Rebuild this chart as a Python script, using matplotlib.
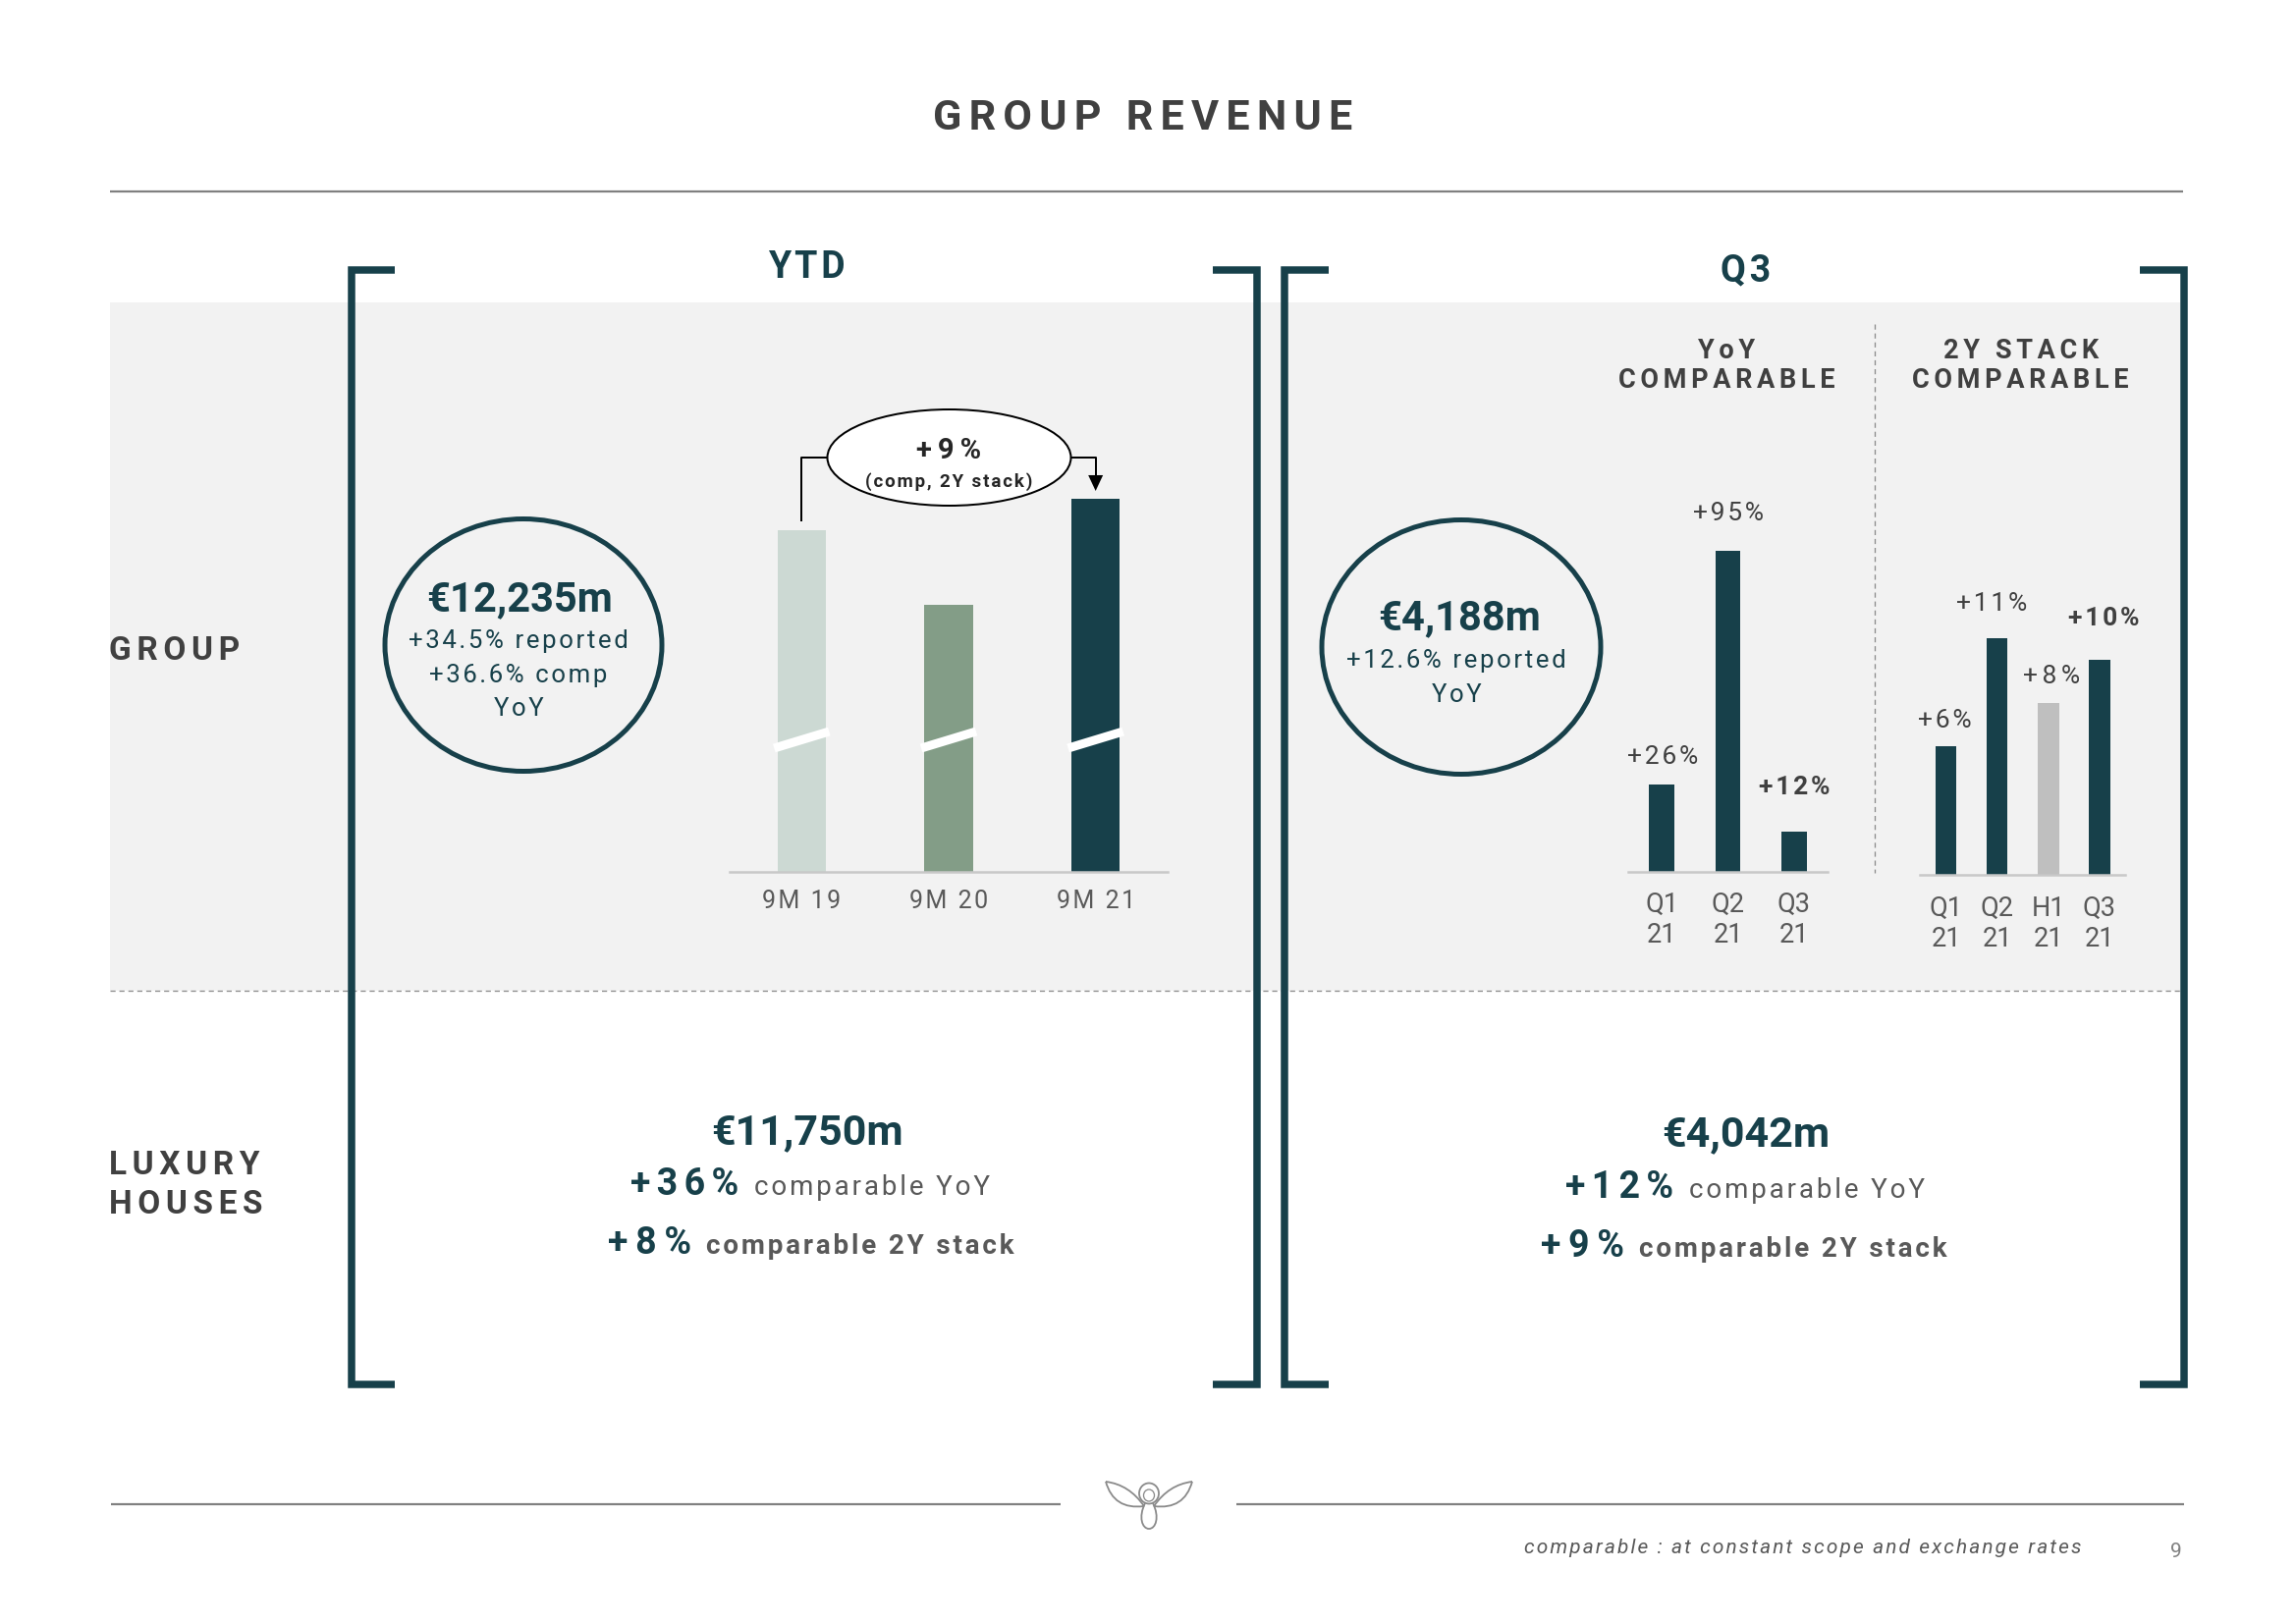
import itertools
import matplotlib
matplotlib.use("Agg")
import matplotlib.pyplot as plt
from matplotlib.patches import Ellipse, Rectangle, PathPatch, Polygon
from matplotlib.path import Path

# ------------------------------------------------------------------ data
title = "GROUP REVENUE"
row_labels = ["GROUP", "LUXURY\nHOUSES"]
section_labels = ["YTD", "Q3"]

ytd_periods = ["9M 19", "9M 20", "9M 21"]
ytd_revenue_m = [11300, 9090, 12235]      # EUR m, drawn on a broken axis
ytd_axis_start_m = 1170                   # value at the broken baseline
ytd_callout = ["+9%", "(comp, 2Y stack)"]
ytd_group_kpi = ["€12,235m", "+34.5% reported", "+36.6% comp", "YoY"]

q3_group_kpi = ["€4,188m", "+12.6% reported", "YoY"]
yoy_header = ["YoY", "COMPARABLE"]
yoy_periods = ["Q1\n21", "Q2\n21", "Q3\n21"]
yoy_growth = [26, 95, 12]
yoy_bold = [False, False, True]
stack_header = ["2Y STACK", "COMPARABLE"]
stack_periods = ["Q1\n21", "Q2\n21", "H1\n21", "Q3\n21"]
stack_growth = [6, 11, 8, 10]
stack_bold = [False, False, False, True]

lux_ytd_total = "€11,750m"
lux_ytd_yoy = 36
lux_ytd_2y = 8
lux_q3_total = "€4,042m"
lux_q3_yoy = 12
lux_q3_2y = 9

footnote = "comparable : at constant scope and exchange rates"
page_number = "9"

# ------------------------------------------------------------------ style
W, H, DPI = 2338, 1654, 100
TEAL = "#17404a"
DARK = "#404040"
MID = "#595959"
LINE = "#808080"
BAND = "#f2f2f2"
YTD_COLORS = ["#ccd9d3", "#839d87", TEAL]
STACK_COLORS = [TEAL, TEAL, "#bfbfbf", TEAL]
FAMS = ["Roboto", "DejaVu Sans"]

YOY_LABEL_DY = [21, 31, 38]
YOY_LABEL_DX = [1, 0, 0]
YOY_LABEL_W = [71, 71, 73]
STACK_LABEL_DY = [19, 28, 20, 35]
STACK_LABEL_DX = [-2, -6, 3, 4]
STACK_LABEL_W = [56, 74, 57, 74]


def px(v):
    return v * 72.0 / DPI


fig = plt.figure(figsize=(W / DPI, H / DPI), dpi=DPI)
fig.patch.set_facecolor("white")
bg = fig.add_axes([0, 0, 1, 1])
bg.set_xlim(0, W)
bg.set_ylim(H, 0)
bg.axis("off")
bg.set_zorder(0)
R = fig.canvas.get_renderer()


def ink_width(s, size, weight, style):
    t = bg.text(0, 0, s, fontsize=size, fontweight=weight, fontstyle=style, family=FAMS)
    w = t.get_window_extent(R).width
    t.remove()
    return w


SPACERS = ["\u200a", "\u2009", "\u2006", "\u2005", "\u2008", "\u2004", " "]
_spc = {}


def spacer_table(size, weight, style):
    key = (size, weight, style)
    if key not in _spc:
        base = ink_width("HH", size, weight, style)
        seps = set()
        for a in SPACERS:
            seps.add(a)
        for a, b in itertools.combinations_with_replacement(SPACERS, 2):
            seps.add(a + b)
        tab = [("", 0.0)]
        for s in seps:
            tab.append((s, ink_width("H" + s + "H", size, weight, style) - base))
        _spc[key] = tab
    return _spc[key]


def spaced(s, size, weight, style, target):
    if target is None or len(s) < 2:
        return s
    w0 = ink_width(s, size, weight, style)
    tr = (target - w0) / (len(s) - 1)
    if tr <= 0:
        return s
    sep = min(spacer_table(size, weight, style), key=lambda e: abs(e[1] - tr))[0]
    return sep.join(s)


def txt(x, y, s, size, weight="normal", color=DARK, target=None, ha="center",
        style="normal", zorder=5):
    return bg.text(x, y, spaced(s, size, weight, style, target), fontsize=size,
                   fontweight=weight, fontstyle=style, color=color,
                   family=FAMS, ha=ha, va="baseline", zorder=zorder)


def mixed(cx, y, parts, gap):
    objs = [txt(0, y, *p, ha="left") for p in parts]
    widths = [o.get_window_extent(R).width for o in objs]
    total = sum(widths) + gap * (len(objs) - 1)
    x = cx - total / 2
    for o, w in zip(objs, widths):
        o.set_x(x)
        x += w + gap


def to_bg(ax, x, y):
    X, Y = ax.transData.transform((x, y))
    return X, H - Y


def chart_axes(x0, x1, ybase, ytop):
    ax = fig.add_axes([x0 / W, 1 - ybase / H, (x1 - x0) / W, (ybase - ytop) / H])
    ax.set_facecolor("none")
    ax.set_zorder(2)
    for s in ("left", "right", "top"):
        ax.spines[s].set_visible(False)
    ax.spines["bottom"].set_color("#c8c8c8")
    ax.spines["bottom"].set_linewidth(px(2.5))
    ax.set_xticks([])
    ax.set_yticks([])
    return ax


# ------------------------------------------------------------------ frame
bg.plot([112, 2223], [195, 195], color=LINE, lw=px(2.2), solid_capstyle="butt")
bg.add_patch(Rectangle((112, 308), 2108, 701, fc=BAND, ec="none", zorder=0))
bg.plot([112, 2220], [1009, 1009], color="#8c8c8c", lw=px(1.3), ls=(0, (4, 3)), zorder=1)

for pts in ([(402, 274.5), (358, 274.5), (358, 1410), (402, 1410)],
            [(1235, 274.5), (1280, 274.5), (1280, 1410), (1235, 1410)],
            [(1353, 274.5), (1308, 274.5), (1308, 1410), (1353, 1410)],
            [(2179, 274.5), (2224, 274.5), (2224, 1410), (2179, 1410)]):
    xs, ys = zip(*pts)
    bg.plot(xs, ys, color=TEAL, lw=px(7.5), solid_joinstyle="miter",
            solid_capstyle="butt", zorder=6)

txt(1164, 132.5, title, 31, "bold", DARK, target=432)
txt(111, 672, row_labels[0], 24, "bold", DARK, target=130, ha="left")
lux_targets = [149, 152]
for k, line in enumerate(row_labels[1].split("\n")):
    txt(111, 1196 + 40 * k, line, 24, "bold", DARK, target=lux_targets[k], ha="left")
txt(821, 283, section_labels[0], 27, "bold", TEAL, target=78)
txt(1778, 286, section_labels[1], 27, "bold", TEAL, target=51)

# ------------------------------------------------------------------ KPI circles
bg.add_patch(Ellipse((533, 657), 282, 257, fc="none", ec=TEAL, lw=px(5), zorder=4))
txt(529, 622, ytd_group_kpi[0], 30, "bold", TEAL, target=197)
for k, (line, tw) in enumerate(zip(ytd_group_kpi[1:], [213, 179, 51])):
    txt(528, 660 + 34.5 * k, line, 18.5, "normal", TEAL, target=tw)

bg.add_patch(Ellipse((1488, 659), 284, 259, fc="none", ec=TEAL, lw=px(5), zorder=4))
txt(1486, 641, q3_group_kpi[0], 30, "bold", TEAL, target=173)
for k, (line, tw) in enumerate(zip(q3_group_kpi[1:], [212, 52])):
    txt(1483, 680 + 35 * k, line, 18.5, "normal", TEAL, target=tw)

# ------------------------------------------------------------------ YTD chart (broken axis)
YTD_BASE, YTD_TOP = 887.5, 420
ppu1 = 0.0343
ax1 = chart_axes(743, 1189, YTD_BASE, YTD_TOP)
ax1.set_xlim(-0.49, 2.49)
ax1.set_ylim(ytd_axis_start_m, ytd_axis_start_m + (YTD_BASE - YTD_TOP) / ppu1)
ax1.bar(range(len(ytd_revenue_m)), ytd_revenue_m, width=0.33, color=YTD_COLORS, zorder=2)


def v_at(p):
    return ytd_axis_start_m + (YTD_BASE - p) / ppu1


for i in range(len(ytd_revenue_m)):
    ax1.plot([i - 0.187, i + 0.187], [v_at(762), v_at(745)], color="white",
             lw=px(9), solid_capstyle="butt", zorder=3)
    X, _ = to_bg(ax1, i, ytd_axis_start_m)
    txt(X, 925, ytd_periods[i], 18, "normal", MID, target=78)

# callout +9%
x0b, y0b = to_bg(ax1, 0, ytd_revenue_m[0])
x2b, y2b = to_bg(ax1, 2, ytd_revenue_m[2])
ccx, ccy, cew, ceh = 966.5, 466, 248, 98
bg.add_patch(Ellipse((ccx, ccy), cew, ceh, fc="white", ec="black", lw=px(2), zorder=4))
bg.plot([x0b, x0b, ccx - cew / 2], [y0b - 10, ccy, ccy], color="black", lw=px(2), zorder=3)
bg.plot([ccx + cew / 2, x2b, x2b], [ccy, ccy, y2b - 22], color="black", lw=px(2), zorder=3)
bg.add_patch(Polygon([(x2b - 7.5, y2b - 24), (x2b + 7.5, y2b - 24), (x2b, y2b - 8)],
                     closed=True, fc="black", ec="none", zorder=3))
txt(ccx, 467, ytd_callout[0], 21, "bold", "#262626", target=66)
txt(ccx, 496, ytd_callout[1], 13.5, "bold", "#262626", target=172)

# ------------------------------------------------------------------ Q3 YoY chart
YOY_BASE = 888
ppu2 = 3.442
ax2 = chart_axes(1658, 1861, YOY_BASE, 450)
ax2.set_xlim(-0.504, 2.504)
ax2.set_ylim(0, (YOY_BASE - 450) / ppu2)
ax2.bar(range(len(yoy_growth)), yoy_growth, width=0.385, color=TEAL, zorder=2)
for i, v in enumerate(yoy_growth):
    X, Y = to_bg(ax2, i, v)
    txt(X + YOY_LABEL_DX[i], Y - YOY_LABEL_DY[i], f"+{v}%", 19,
        "bold" if yoy_bold[i] else "normal", DARK, target=YOY_LABEL_W[i])
    X0, _ = to_bg(ax2, i, 0)
    for k, line in enumerate(yoy_periods[i].split("\n")):
        txt(X0, YOY_BASE + 41 + 31 * k, line, 19.5, "normal", MID,
            target=[34, 28][k])

txt(1758, 365, yoy_header[0], 19.5, "bold", DARK, target=59)
txt(1758, 395, yoy_header[1], 19.5, "bold", DARK, target=222)

bg.plot([1909, 1909], [330, 889], color="#8c8c8c", lw=px(1.3), ls=(0, (4, 3)), zorder=1)

# ------------------------------------------------------------------ Q3 2Y stack chart
ST_BASE = 891
ppu3 = 21.9
ax3 = chart_axes(1955, 2164, ST_BASE, 450)
ax3.set_xlim(-0.519, 3.5)
ax3.set_ylim(0, (ST_BASE - 450) / ppu3)
ax3.bar(range(len(stack_growth)), stack_growth, width=0.404, color=STACK_COLORS, zorder=2)
for i, v in enumerate(stack_growth):
    X, Y = to_bg(ax3, i, v)
    txt(X + STACK_LABEL_DX[i], Y - STACK_LABEL_DY[i], f"+{v}%", 19,
        "bold" if stack_bold[i] else "normal", DARK, target=STACK_LABEL_W[i])
    X0, _ = to_bg(ax3, i, 0)
    for k, line in enumerate(stack_periods[i].split("\n")):
        txt(X0, ST_BASE + 42 + 31 * k, line, 19.5, "normal", MID,
            target=[34, 28][k])

txt(2058, 365, stack_header[0], 19.5, "bold", DARK, target=158)
txt(2057, 395, stack_header[1], 19.5, "bold", DARK, target=221)

# ------------------------------------------------------------------ Luxury houses
txt(822, 1165, lux_ytd_total, 31, "bold", TEAL, target=206)
mixed(825, 1217, [(f"+{lux_ytd_yoy}%", 27, "bold", TEAL, 108),
                  ("comparable YoY", 20, "normal", MID, 238)], gap=15)
mixed(826, 1277, [(f"+{lux_ytd_2y}%", 27, "bold", TEAL, 85),
                  ("comparable 2Y stack", 20, "bold", MID, 329)], gap=15)

txt(1778, 1167, lux_q3_total, 31, "bold", TEAL, target=177)
mixed(1777, 1220, [(f"+{lux_q3_yoy}%", 27, "bold", TEAL, 108),
                   ("comparable YoY", 20, "normal", MID, 238)], gap=15)
mixed(1776, 1280, [(f"+{lux_q3_2y}%", 27, "bold", TEAL, 84),
                   ("comparable 2Y stack", 20, "bold", MID, 329)], gap=15)

# ------------------------------------------------------------------ footer
bg.plot([113, 1080], [1532, 1532], color=LINE, lw=px(2.2), solid_capstyle="butt")
bg.plot([1259, 2224], [1532, 1532], color=LINE, lw=px(2.2), solid_capstyle="butt")

LOGO = "#8a8a8a"
lw_logo = px(1.8)
C3 = Path.CURVE3
C4 = Path.CURVE4
wing_l = Path([(1126, 1509), (1150, 1512), (1165, 1534), (1134, 1538), (1126, 1509)],
              [Path.MOVETO, C3, C3, C3, C3])
wing_r = Path([(1214, 1509), (1190, 1512), (1175, 1534), (1206, 1538), (1214, 1509)],
              [Path.MOVETO, C3, C3, C3, C3])
tail = Path([(1166, 1531), (1159, 1545), (1163, 1557), (1170, 1557),
             (1177, 1557), (1181, 1545), (1174, 1531)],
            [Path.MOVETO, C4, C4, C4, C4, C4, C4])
for p in (wing_l, wing_r, tail):
    bg.add_patch(PathPatch(p, fc="none", ec=LOGO, lw=lw_logo, zorder=3))
bg.add_patch(Ellipse((1170, 1521), 20, 21, fc="white", ec=LOGO, lw=lw_logo, zorder=4))
bg.add_patch(Ellipse((1170, 1523), 11, 12, fc="none", ec=LOGO, lw=px(1.3), zorder=4))

txt(2120, 1582, footnote, 15, "normal", MID, target=565, ha="right", style="italic")
txt(2216, 1586, page_number, 15, "normal", LINE)

fig.savefig("out.png", dpi=DPI, facecolor="white")
